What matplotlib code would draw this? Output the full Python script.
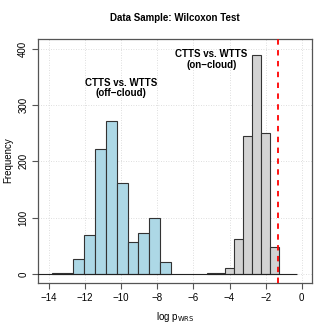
import matplotlib
matplotlib.use("Agg")
import matplotlib.pyplot as plt
import numpy as np

# Off-cloud (blue) histogram
blue_edges = [-13.85, -13.25, -12.65, -12.05, -11.45, -10.85, -10.25, -9.65, -9.05, -8.45, -7.85, -7.25]
blue_counts = [1, 2, 26, 70, 221, 272, 161, 57, 73, 100, 21]

# On-cloud (gray) histogram
gray_edges = [-5.25, -4.75, -4.25, -3.75, -3.25, -2.75, -2.25, -1.75, -1.25]
gray_counts = [1, 1, 10, 62, 244, 388, 250, 47]

x_ticks = [-14, -12, -10, -8, -6, -4, -2, 0]
y_ticks = [0, 100, 200, 300, 400]
threshold = np.log10(0.05)
baseline_range = (-14.75, -0.25)

plt.rcParams['font.family'] = ['Liberation Sans', 'DejaVu Sans']

fig = plt.figure(figsize=(3.32, 3.32), dpi=100)
ax = fig.add_axes([38/332, 1-283/332, (312-38)/332, (283-39)/332])

for x in x_ticks:
    ax.axvline(x, color='#d3d3d3', lw=0.6, ls=(0, (1, 2)), zorder=0)
for y in y_ticks:
    ax.axhline(y, color='#d3d3d3', lw=0.6, ls=(0, (1, 2)), zorder=0)

ax.hlines(0, baseline_range[0], baseline_range[1], color='#222222', lw=0.8, zorder=3)

bw = np.diff(blue_edges)
ax.bar(blue_edges[:-1], blue_counts, width=bw, align='edge', color='#ADD8E6',
       edgecolor='#333333', linewidth=0.8, zorder=2)
gw = np.diff(gray_edges)
ax.bar(gray_edges[:-1], gray_counts, width=gw, align='edge', color='#D3D3D3',
       edgecolor='#333333', linewidth=0.8, zorder=2)

ax.axvline(threshold, color='red', lw=1.3, ls=(0, (3, 3)), zorder=4)

ax.set_xlim(-14.61, 0.57)
ax.set_ylim(-16, 417)
ax.set_xticks(x_ticks)
ax.set_xticklabels([str(t).replace('-', '\u2212') for t in x_ticks])
ax.set_yticks(y_ticks)
ax.set_yticklabels([str(t) for t in y_ticks], rotation=90, va='center')
ax.tick_params(direction='out', length=4, width=0.8, color='#555555', labelsize=7, pad=3)
for s in ax.spines.values():
    s.set_color('#555555')
    s.set_linewidth(0.9)

ax.set_xlabel(r'log p$_{\mathrm{WRS}}$', fontsize=7, labelpad=5)
fig.text(8/332, 1-160/332, 'Frequency', rotation=90, ha='center', va='center', fontsize=7)
fig.text(175/332, 1-18/332, 'Data Sample: Wilcoxon Test', ha='center', va='center',
         fontsize=7, fontweight='bold')

ax.text(-10.0, 330, 'CTTS vs. WTTS\n(off\u2212cloud)', ha='center', va='center',
        fontsize=7, fontweight='bold', linespacing=1.1)
ax.text(-5.0, 380, 'CTTS vs. WTTS\n(on\u2212cloud)', ha='center', va='center',
        fontsize=7, fontweight='bold', linespacing=1.1)

fig.savefig('out.png', dpi=100)
